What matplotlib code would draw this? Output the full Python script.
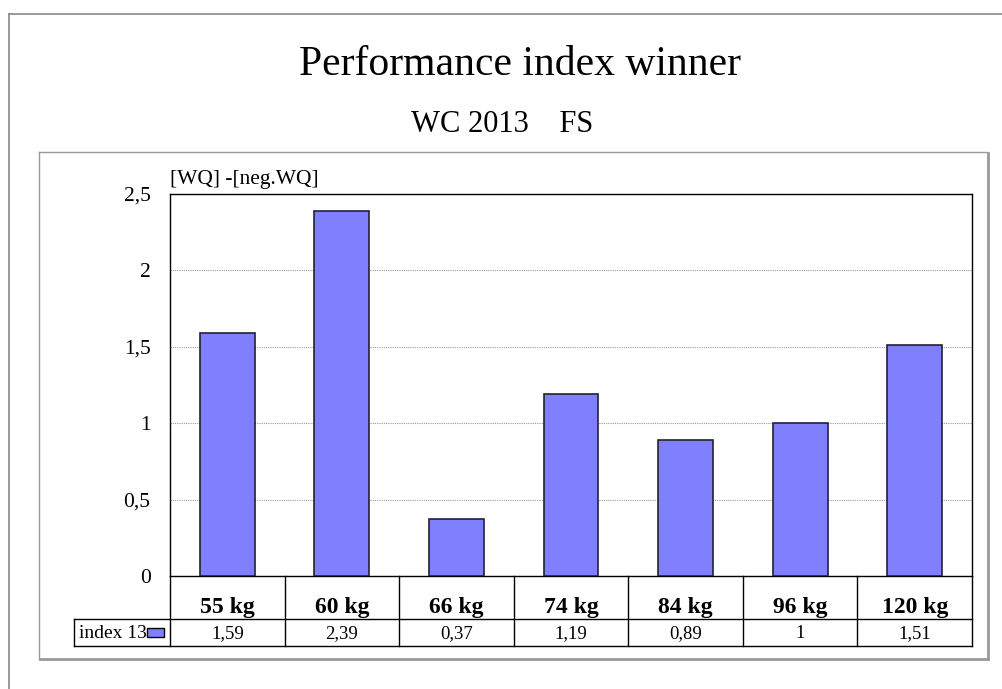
import matplotlib
matplotlib.use("Agg")
import matplotlib.pyplot as plt
from matplotlib.patches import Rectangle
from matplotlib.lines import Line2D
from matplotlib.transforms import blended_transform_factory

plt.rcParams['font.family'] = ['Liberation Serif', 'DejaVu Serif']

# data
categories = ["55 kg", "60 kg", "66 kg", "74 kg", "84 kg", "96 kg", "120 kg"]
index13 = [1.59, 2.39, 0.37, 1.19, 0.89, 1.0, 1.51]
value_labels = ["1,59", "2,39", "0,37", "1,19", "0,89", "1", "1,51"]
yticks = [0, 0.5, 1, 1.5, 2, 2.5]
ytick_labels = ["0", "0,5", "1", "1,5", "2", "2,5"]

W, H = 1003, 689
fig = plt.figure(figsize=(W / 100, H / 100), dpi=100)


def fx(px):
    return px / W


def fy(py):
    return 1 - py / H


def fline(x0, y0, x1, y1, color="black", lw=1.0):
    fig.add_artist(Line2D([fx(x0), fx(x1)], [fy(y0), fy(y1)], color=color,
                          lw=lw, transform=fig.transFigure))


# outer frame and inner frame (with grey shadow)
fline(9, 14, 1003, 14, color="#888888", lw=1.2)
fline(9, 14, 9, 689, color="#888888", lw=1.2)
fline(39, 152, 987, 152, color="#999999", lw=1.0)
fline(39, 152, 39, 659, color="#999999", lw=1.0)
fline(40, 659, 988, 659, color="#999999", lw=2.0)
fline(988, 153, 988, 659, color="#999999", lw=2.0)

fig.text(fx(520), fy(75), "Performance index winner", ha="center",
         va="baseline", fontsize=30)
fig.text(fx(502), fy(132), "WC 2013    FS", ha="center", va="baseline",
         fontsize=22)

# plot area
left, right, top, bottom = 170, 972, 194, 576
ax = fig.add_axes([fx(left), fy(bottom), fx(right - left), (bottom - top) / H])
x = list(range(len(categories)))
ax.bar(x, index13, width=0.48, color="#8080FF", edgecolor="#222233",
       linewidth=1.2, zorder=3)
ax.set_xlim(-0.5, len(categories) - 0.5)
ax.set_ylim(0, 2.5)
ax.set_yticks(yticks)
ax.set_yticklabels(ytick_labels, fontsize=15.5)
ax.tick_params(axis="y", length=0, pad=14)
ax.set_xticks([])
ax.grid(axis="y", color="#999999", linestyle=(0, (1, 1)), linewidth=0.8,
        zorder=1)
for s in ax.spines.values():
    s.set_color("black")
    s.set_linewidth(1.0)
fig.text(fx(170), fy(184), "[WQ] -[neg.WQ]", ha="left", va="baseline",
         fontsize=15.5)

# data table under the axis
row1_bot, row2_bot, tab_left = 619, 646, 74
trans = blended_transform_factory(ax.transData, fig.transFigure)
fline(left, bottom, left, row2_bot)
fline(right, bottom, right, row2_bot)
fline(tab_left, row1_bot, right, row1_bot)
fline(tab_left, row2_bot, right, row2_bot)
fline(tab_left, row1_bot, tab_left, row2_bot)
for i in range(1, len(categories)):
    xb = ax.transData.transform((i - 0.5, 0))[0]
    fline(xb, bottom, xb, row2_bot)
for i, (cat, lab) in enumerate(zip(categories, value_labels)):
    ax.text(i, fy(613), cat, transform=trans, ha="center", va="baseline",
            fontsize=17, fontweight="bold")
    ax.text(i, fy(638), lab, transform=trans, ha="center", va="baseline",
            fontsize=13.5)
fig.text(fx(79), fy(638), "index 13", ha="left", va="baseline", fontsize=14)
fig.add_artist(Rectangle((fx(147), fy(637)), fx(17), (637 - 628) / H,
                         facecolor="#8080FF", edgecolor="black", lw=1.0,
                         transform=fig.transFigure))

fig.savefig("out.png", dpi=100)
